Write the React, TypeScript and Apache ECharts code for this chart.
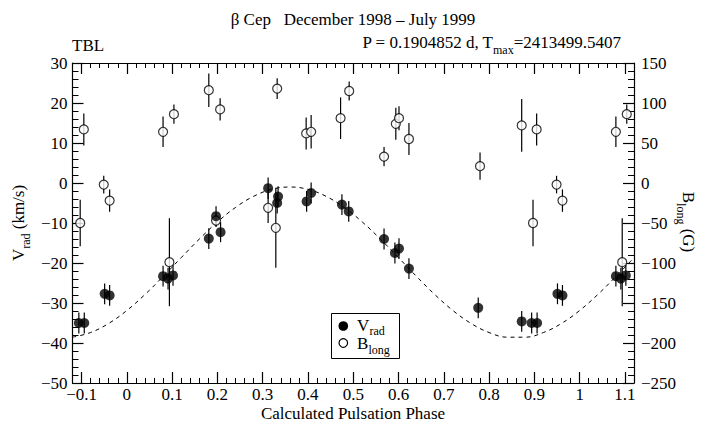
import React, { useEffect, useRef } from 'react';
import * as echarts from 'echarts';

const FONT = 'Liberation Serif, Times New Roman, serif';
const PHASE_MIN = -0.12;
const PHASE_MAX = 1.12;

// Radial velocity (filled circles), base phase in [0,1)
const vradPhase = [0.080, 0.091, 0.102, 0.181, 0.197, 0.207, 0.312, 0.332, 0.334, 0.397, 0.407, 0.475, 0.490, 0.568, 0.592, 0.601, 0.623, 0.776, 0.872, 0.894, 0.906, 0.951, 0.962];
const vradValue = [-23.3, -23.9, -23.1, -13.9, -8.3, -12.3, -1.3, -5.0, -3.4, -4.6, -2.5, -5.4, -7.1, -14.0, -17.5, -16.4, -21.4, -31.2, -34.6, -35.0, -35.0, -27.7, -28.1];
const vradError = [2.6, 2.7, 2.6, 2.6, 2.5, 2.5, 2.7, 2.6, 2.6, 2.6, 2.6, 2.6, 2.6, 2.6, 2.6, 2.6, 2.6, 2.6, 2.6, 2.6, 2.6, 2.6, 2.6];

// Longitudinal magnetic field (open circles), base phase in [0,1)
const blongPhase = [0.080, 0.094, 0.104, 0.181, 0.197, 0.206, 0.312, 0.329, 0.332, 0.396, 0.407, 0.472, 0.491, 0.568, 0.594, 0.601, 0.623, 0.780, 0.872, 0.897, 0.905, 0.949, 0.962];
const blongValue = [64, -99, 86, 116, -47, 92, -31, -56, 118, 62, 64, 81, 115, 33, 74, 81, 55, 21, 72, -50, 67, -2, -22];
const blongError = [19, 55, 12, 21, 8, 14, 19, 50, 13, 20, 21, 26, 12, 12, 20, 15, 20, 17, 33, 29, 20, 11, 14];

// Dashed fitted curve
const fitPhase = [-0.12, -0.08, -0.04, 0.00, 0.04, 0.08, 0.12, 0.16, 0.20, 0.24, 0.28, 0.32, 0.36, 0.40, 0.44, 0.48, 0.52, 0.56, 0.60, 0.64, 0.68, 0.72, 0.76, 0.80, 0.84, 0.88, 0.92, 0.96, 1.00, 1.04, 1.08, 1.12];
const fitValue = [-38.55, -37.38, -35.10, -31.87, -27.88, -23.38, -18.67, -14.03, -9.75, -6.11, -3.33, -1.59, -1.00, -1.59, -3.33, -6.11, -9.75, -14.03, -18.67, -23.38, -27.88, -31.87, -35.10, -37.38, -38.55, -38.55, -37.38, -35.10, -31.87, -27.88, -23.38, -18.67];

// Tick values
const xMajorTicks = [-0.1, 0, 0.1, 0.2, 0.3, 0.4, 0.5, 0.6, 0.7, 0.8, 0.9, 1, 1.1];
const xMinorTicks: number[] = [];
for (let k = -6; k <= 56; k++) xMinorTicks.push((2 * k) / 100);

const titleText = 'β Cep   December 1998 – July 1999';
const leftNote = 'TBL';

function wrapPhases(phase: number[], value: number[], err: number[]) {
  const out: number[][] = [];
  for (let i = 0; i < phase.length; i++) {
    for (const shift of [-1, 0, 1]) {
      const p = phase[i] + shift;
      if (p >= PHASE_MIN && p <= PHASE_MAX) out.push([Math.round(p * 1000) / 1000, value[i], err[i]]);
    }
  }
  return out;
}

const minus = (s: string) => s.replace('-', '\u2212');

export default function App() {
  const ref = useRef<HTMLDivElement>(null);
  useEffect(() => {
    if (!ref.current) return;
    const chart = echarts.init(ref.current, null, { renderer: 'svg' });
    const vData = wrapPhases(vradPhase, vradValue, vradError);
    const bData = wrapPhases(blongPhase, blongValue, blongError);
    const fitData = fitPhase.map((p, i) => [p, fitValue[i]]);

    const axisLine = { show: true, onZero: false, lineStyle: { color: '#000', width: 1.2 } };
    const noLine = { show: false, onZero: false };
    const labelStyle = { color: '#000', fontFamily: FONT, fontSize: 17 };

    const errRender = (params: any, api: any) => {
      const x = api.value(0);
      const y = api.value(1);
      const e = api.value(2);
      const p1 = api.coord([x, y - e]);
      const p2 = api.coord([x, y + e]);
      return {
        type: 'line',
        shape: { x1: p1[0], y1: p1[1], x2: p2[0], y2: p2[1] },
        style: { stroke: '#000', lineWidth: 1.2 },
      };
    };

    const m = { fontSize: 17, fontFamily: FONT, lineHeight: 22, verticalAlign: 'top', fill: '#000' };
    const s = { fontSize: 12, fontFamily: FONT, lineHeight: 10, verticalAlign: 'bottom', fill: '#000' };
    const rich = { m, s };

    const txt = (x: number, y: number, text: string, align: string, extra: any = {}, size = 17) => ({
      type: 'text',
      x,
      y,
      z: 100,
      ...extra,
      style: {
        text,
        rich,
        fontSize: size,
        fontFamily: FONT,
        fill: '#000',
        textAlign: align,
        textVerticalAlign: 'middle',
        align,
        verticalAlign: 'middle',
      },
    });

    chart.setOption({
      animation: false,
      backgroundColor: '#fff',
      grid: { left: 72.5, right: 76, top: 63, bottom: 45, containLabel: false, outerBoundsMode: 'none' },
      xAxis: [
        {
          type: 'value', min: PHASE_MIN, max: PHASE_MAX, position: 'bottom',
          axisLine,
          axisTick: { show: true, inside: true, length: 11, lineStyle: { color: '#000', width: 1.2 }, customValues: xMajorTicks },
          axisLabel: { ...labelStyle, margin: 3, customValues: xMajorTicks, formatter: (v: number) => minus(String(Math.round(v * 10) / 10)) },
          splitLine: { show: false },
        },
        {
          type: 'value', min: PHASE_MIN, max: PHASE_MAX, position: 'bottom',
          axisLine: noLine,
          axisTick: { show: true, inside: true, length: 5, lineStyle: { color: '#000', width: 1 }, customValues: xMinorTicks },
          axisLabel: { show: false },
          splitLine: { show: false },
        },
        {
          type: 'value', min: PHASE_MIN, max: PHASE_MAX, position: 'top',
          axisLine,
          axisTick: { show: true, inside: true, length: 11, lineStyle: { color: '#000', width: 1.2 }, customValues: xMajorTicks },
          axisLabel: { show: false },
          splitLine: { show: false },
        },
        {
          type: 'value', min: PHASE_MIN, max: PHASE_MAX, position: 'top',
          axisLine: noLine,
          axisTick: { show: true, inside: true, length: 5, lineStyle: { color: '#000', width: 1 }, customValues: xMinorTicks },
          axisLabel: { show: false },
          splitLine: { show: false },
        },
      ],
      yAxis: [
        {
          type: 'value', min: -50, max: 30, interval: 10, position: 'left',
          axisLine,
          axisTick: { show: true, inside: true, length: 11, lineStyle: { color: '#000', width: 1.2 } },
          minorTick: { show: true, splitNumber: 5, length: 6, lineStyle: { color: '#000', width: 1 } },
          axisLabel: { ...labelStyle, margin: 5, formatter: (v: number) => minus(String(v)) },
          splitLine: { show: false },
          minorSplitLine: { show: false },
        },
        {
          type: 'value', min: -250, max: 150, interval: 50, position: 'right',
          axisLine,
          axisTick: { show: true, inside: true, length: 11, lineStyle: { color: '#000', width: 1.2 } },
          minorTick: { show: true, splitNumber: 5, length: 6, lineStyle: { color: '#000', width: 1 } },
          axisLabel: { ...labelStyle, margin: 7, formatter: (v: number) => minus(String(v)) },
          splitLine: { show: false },
          minorSplitLine: { show: false },
        },
      ],
      series: [
        {
          type: 'line', xAxisIndex: 0, yAxisIndex: 0, data: fitData, smooth: 0.4, showSymbol: false, symbol: 'none',
          lineStyle: { color: '#000', width: 1, type: [4, 4] }, z: 1, silent: true,
        },
        { type: 'custom', xAxisIndex: 0, yAxisIndex: 1, data: bData, renderItem: errRender, z: 2, encode: { x: 0, y: 1 } },
        { type: 'custom', xAxisIndex: 0, yAxisIndex: 0, data: vData, renderItem: errRender, z: 2, encode: { x: 0, y: 1 } },
        {
          type: 'scatter', xAxisIndex: 0, yAxisIndex: 1, data: bData.map((d) => [d[0], d[1]]), symbol: 'circle', symbolSize: 9,
          itemStyle: { color: '#fff', borderColor: '#000', borderWidth: 1.2 }, z: 3,
        },
        {
          type: 'scatter', xAxisIndex: 0, yAxisIndex: 0, data: vData.map((d) => [d[0], d[1]]), symbol: 'circle', symbolSize: 10,
          itemStyle: { color: '#000' }, z: 4,
        },
      ],
      graphic: [
        txt(353, 19.5, titleText, 'center'),
        txt(72, 45, leftNote, 'left'),
        txt(621, 45, '{m|P = 0.1904852 d, T}{s|max}{m|=2413499.5407}', 'right'),
        txt(21, 223, '{m|V}{s|rad}{m| (km/s)}', 'center', { rotation: Math.PI / 2 }),
        txt(686, 222, '{m|B}{s|long}{m| (G)}', 'center', { rotation: -Math.PI / 2 }),
        txt(353, 413, 'Calculated Pulsation Phase', 'center'),
        {
          type: 'rect', z: 90,
          shape: { x: 331.5, y: 313.5, width: 68, height: 45 },
          style: { fill: '#fff', stroke: '#000', lineWidth: 1 },
        },
        { type: 'circle', z: 100, shape: { cx: 343.3, cy: 326, r: 4.8 }, style: { fill: '#000' } },
        { type: 'circle', z: 100, shape: { cx: 343.3, cy: 343, r: 4.3 }, style: { fill: '#fff', stroke: '#000', lineWidth: 1.2 } },
        txt(357, 325, 'V', 'left'),
        txt(369.5, 331, 'rad', 'left', {}, 12),
        txt(357, 343.5, 'B', 'left'),
        txt(368.5, 349.5, 'long', 'left', {}, 12),
      ],
    });
    return () => chart.dispose();
  }, []);
  return <div ref={ref} style={{ position: 'absolute', left: 0, top: 0, width: 710, height: 428 }} />;
}
